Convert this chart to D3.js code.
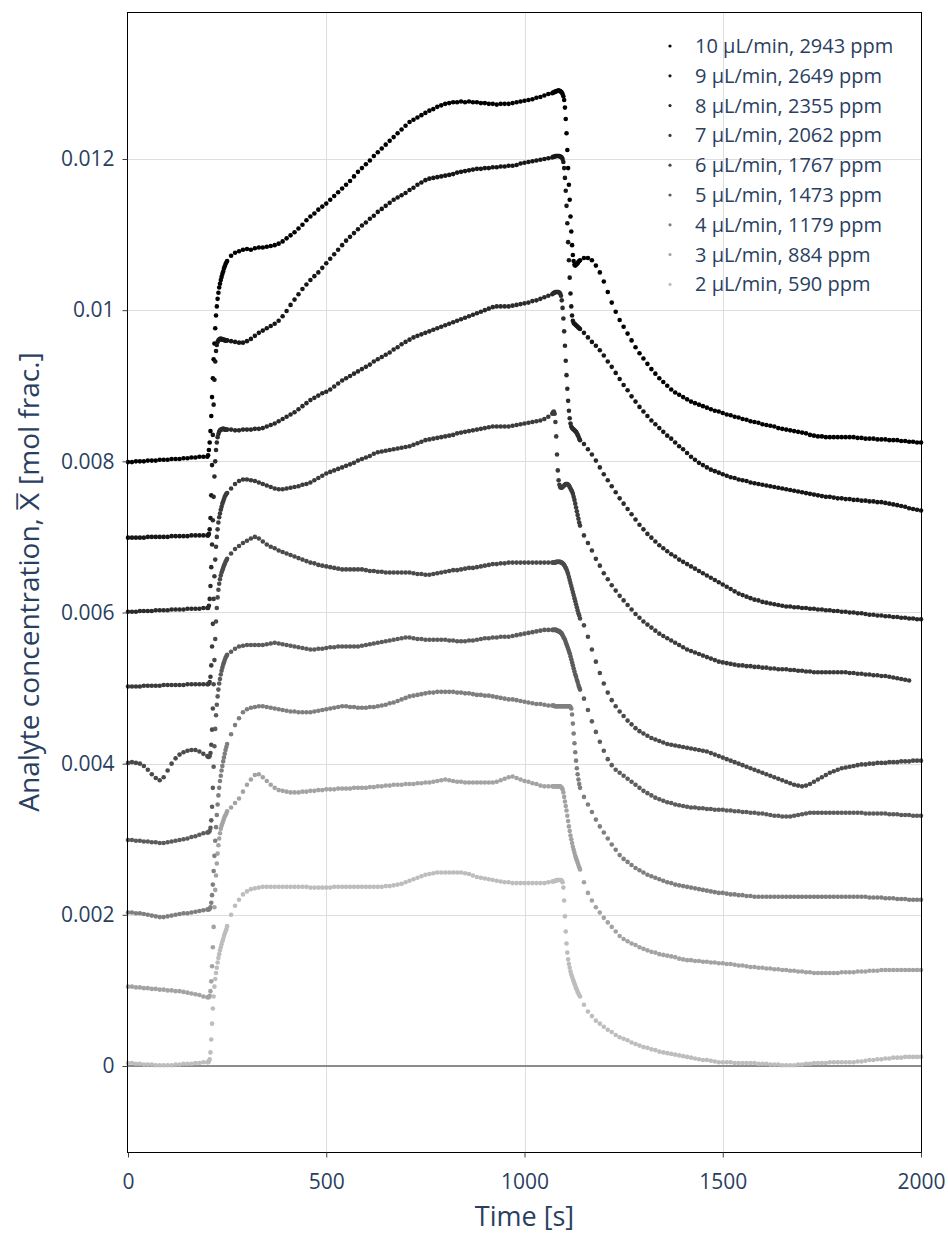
<!DOCTYPE html>
<html>
<head>
<meta charset="utf-8">
<script src="https://cdn.jsdelivr.net/npm/d3@7"></script>
<style>
  body { margin: 0; background: #fff; }
  text { font-family: "Open Sans", sans-serif; }
</style>
</head>
<body>
<div id="chart"></div>
<script>
// sample times [s]
var time = [
  0,10,20,30,40,50,60,70,80,90,100,110,120,130,140,150,160,170,180,190,200,
  202,204,206,208,210,212,214,216,218,220,222,224,226,228,230,232,234,236,238,240,242,244,246,248,
  250,260,270,280,290,300,310,320,330,340,350,360,370,380,390,400,410,420,430,440,
  450,460,470,480,490,500,510,520,530,540,550,560,570,580,590,600,610,620,630,640,
  650,660,670,680,690,700,710,720,730,740,750,760,770,780,790,800,810,820,830,840,
  850,860,870,880,890,900,910,920,930,940,950,960,970,980,990,1000,1010,1020,1030,1040,
  1050,1060,1070,
  1072,1074,1076,1078,1080,1082,1084,1086,1088,1090,1092,1094,1096,1098,1100,1102,1104,1106,1108,1110,
  1112,1114,1116,1118,1120,1122,1124,1126,1128,1130,1132,1134,1136,1138,
  1140,1150,1160,1170,1180,1190,1200,1210,1220,1230,1240,1250,1260,1270,1280,1290,1300,1310,1320,1330,
  1340,1350,1360,1370,1380,1390,1400,1410,1420,1430,1440,1450,1460,1470,1480,1490,1500,1510,1520,1530,
  1540,1550,1560,1570,1580,1590,1600,1610,1620,1630,1640,1650,1660,1670,1680,1690,1700,1710,1720,1730,
  1740,1750,1760,1770,1780,1790,1800,1810,1820,1830,1840,1850,1860,1870,1880,1890,1900,1910,1920,1930,
  1940,1950,1960,1970,1980,1990,2000
];

// analyte concentration, in units of 1e-4 mol frac.
var x10 = [
  79.9,79.9,80.0,80.0,80.0,80.1,80.1,80.1,80.2,80.2,80.2,80.3,80.3,80.3,80.4,80.4,80.5,80.5,80.6,80.6,80.6,
  80.8,81.5,82.5,84.0,86.0,88.5,91.0,93.5,95.6,97.6,99.3,100.5,101.5,102.3,103.0,103.5,104.0,104.4,104.8,105.1,105.5,105.8,106.1,106.3,
  106.5,107.2,107.6,107.8,108.0,108.1,108.0,108.2,108.3,108.3,
  108.4,108.5,108.6,108.8,109.1,109.5,109.9,110.3,110.8,111.3,
  111.9,112.4,112.8,113.3,113.7,114.1,114.6,115.1,115.6,116.1,
  116.6,117.1,117.7,118.3,118.8,119.3,119.8,120.4,120.9,121.4,
  121.9,122.4,122.9,123.4,123.9,124.4,124.9,125.2,125.5,125.8,
  126.1,126.4,126.6,126.9,127.1,127.3,127.4,127.5,127.5,127.6,
  127.5,127.6,127.5,127.5,127.4,127.4,127.3,127.3,127.2,127.3,
  127.3,127.3,127.4,127.5,127.6,127.7,127.8,127.9,128.1,128.2,
  128.4,128.6,128.7,
  128.8,128.8,128.9,128.9,129.0,129.0,129.0,129.1,129.0,129.0,
  128.9,128.8,128.6,128.3,127.8,126.8,125.3,123.4,121.2,118.8,
  116.6,114.6,112.4,110.4,108.6,107.3,106.5,106.0,105.9,106.0,
  106.1,106.2,106.4,106.5,
  106.6,106.9,106.9,106.6,105.9,105.0,103.8,102.4,101.0,99.8,
  98.7,97.8,96.9,96.0,95.1,94.3,93.6,92.9,92.2,91.6,
  91.0,90.5,90.0,89.5,89.1,88.8,88.5,88.2,87.9,87.7,
  87.5,87.3,87.1,86.9,86.7,86.6,86.4,86.2,86.1,85.9,
  85.8,85.6,85.5,85.3,85.2,85.1,84.9,84.8,84.7,84.6,
  84.4,84.3,84.2,84.1,84.0,83.9,83.8,83.7,83.5,83.4,
  83.3,83.3,83.2,83.2,83.2,83.2,83.2,83.2,83.2,83.2,
  83.1,83.1,83.0,83.0,83.0,82.9,82.9,82.9,82.8,82.8,
  82.8,82.7,82.7,82.6,82.6,82.5,82.5
];
var x9 = [
  69.9,69.9,69.9,69.9,69.9,70.0,70.0,70.0,70.0,70.0,70.0,70.1,70.1,70.1,70.1,70.1,70.2,70.2,70.2,70.2,70.2,
  70.2,70.4,71.0,72.5,75.5,79.5,83.5,87.5,90.8,93.2,94.6,95.4,95.8,96.0,96.1,96.2,96.2,96.2,96.1,96.1,96.1,96.0,96.0,96.0,
  96.0,95.9,95.8,95.7,95.7,95.9,96.2,96.6,97.0,97.3,
  97.6,97.9,98.2,98.6,99.2,99.9,100.7,101.4,102.1,102.8,
  103.4,104.0,104.5,105.0,105.6,106.2,106.8,107.4,108.0,108.6,
  109.2,109.7,110.2,110.7,111.2,111.6,112.1,112.5,113.0,113.4,
  113.8,114.2,114.6,114.9,115.2,115.5,115.9,116.2,116.6,116.9,
  117.2,117.4,117.5,117.6,117.7,117.8,117.9,118.0,118.2,118.3,
  118.4,118.5,118.6,118.7,118.7,118.8,118.8,118.9,118.9,119.0,
  119.0,119.1,119.1,119.2,119.4,119.5,119.6,119.7,119.8,119.9,
  120.0,120.1,120.2,
  120.3,120.3,120.3,120.4,120.4,120.4,120.4,120.4,120.4,120.3,
  120.3,120.2,120.0,119.6,118.8,117.5,115.8,113.8,111.5,109.0,
  106.6,104.3,102.2,100.5,99.3,98.6,98.3,98.2,98.1,98.0,
  97.9,97.8,97.7,97.6,
  97.5,97.0,96.4,95.8,95.3,94.7,94.0,93.2,92.5,91.7,
  90.9,90.1,89.4,88.6,87.9,87.2,86.6,86.0,85.4,84.9,
  84.4,83.9,83.4,83.0,82.5,82.0,81.6,81.1,80.6,80.2,
  79.8,79.5,79.2,78.9,78.7,78.5,78.3,78.1,77.9,77.8,
  77.6,77.5,77.4,77.2,77.1,77.0,76.9,76.8,76.7,76.6,
  76.5,76.4,76.3,76.2,76.1,76.0,75.9,75.8,75.7,75.6,
  75.5,75.4,75.3,75.3,75.2,75.1,75.1,75.0,75.0,74.9,
  74.9,74.8,74.8,74.7,74.7,74.6,74.6,74.5,74.4,74.3,
  74.2,74.1,74.0,73.8,73.7,73.6,73.5
];
var x8 = [
  60.1,60.1,60.1,60.2,60.2,60.2,60.2,60.3,60.3,60.3,60.3,60.4,60.4,60.4,60.4,60.5,60.5,60.5,60.5,60.6,60.6,
  60.6,60.9,61.8,63.5,66.0,69.0,72.2,75.3,78.0,80.0,81.5,82.5,83.2,83.6,83.9,84.1,84.2,84.2,84.3,84.3,84.3,84.2,84.2,84.2,
  84.2,84.2,84.1,84.1,84.2,84.2,84.2,84.3,84.3,84.4,
  84.6,84.8,85.0,85.3,85.6,85.9,86.2,86.5,86.9,87.3,
  87.7,88.1,88.4,88.7,89.0,89.2,89.5,89.9,90.3,90.7,
  91.0,91.3,91.6,91.9,92.2,92.5,92.8,93.2,93.5,93.8,
  94.1,94.4,94.8,95.1,95.5,95.8,96.1,96.4,96.6,96.8,
  97.0,97.2,97.4,97.6,97.8,98.0,98.2,98.4,98.6,98.8,
  99.0,99.2,99.4,99.6,99.8,100.0,100.2,100.4,100.5,100.5,
  100.5,100.5,100.6,100.7,100.8,100.9,101.0,101.2,101.3,101.5,
  101.7,101.9,102.1,
  102.2,102.3,102.3,102.4,102.4,102.4,102.4,102.4,102.3,102.2,
  101.9,101.3,100.3,98.9,97.2,95.3,93.3,91.4,89.6,88.0,
  86.7,85.7,85.0,84.6,84.4,84.3,84.2,84.1,84.0,83.9,
  83.7,83.5,83.3,83.0,
  82.8,82.3,81.6,80.9,80.1,79.2,78.3,77.5,76.7,75.9,
  75.1,74.4,73.7,73.0,72.3,71.6,71.0,70.4,69.9,69.4,
  68.9,68.5,68.1,67.7,67.4,67.0,66.7,66.4,66.1,65.8,
  65.5,65.2,64.9,64.6,64.3,64.0,63.7,63.4,63.1,62.8,
  62.5,62.3,62.1,61.9,61.7,61.6,61.4,61.3,61.2,61.1,
  61.0,60.9,60.8,60.8,60.7,60.7,60.6,60.6,60.5,60.5,
  60.4,60.4,60.3,60.3,60.2,60.2,60.1,60.1,60.0,60.0,
  59.9,59.9,59.8,59.7,59.7,59.6,59.6,59.5,59.5,59.4,
  59.4,59.3,59.3,59.2,59.2,59.1,59.1
];
var x7 = [
  50.2,50.2,50.2,50.2,50.3,50.3,50.3,50.3,50.3,50.4,50.4,50.4,50.4,50.4,50.4,50.5,50.5,50.5,50.5,50.5,50.5,
  50.5,50.6,50.8,51.5,53.0,55.5,58.5,61.8,64.8,67.0,68.7,70.0,71.0,71.9,72.6,73.1,73.6,74.0,74.4,74.7,75.0,75.3,75.5,75.7,
  75.8,76.4,77.0,77.4,77.6,77.6,77.5,77.4,77.2,77.0,
  76.8,76.6,76.4,76.3,76.3,76.4,76.5,76.6,76.7,76.9,
  77.0,77.2,77.5,77.8,78.1,78.4,78.6,78.8,79.0,79.2,
  79.4,79.6,79.8,80.1,80.3,80.5,80.7,81.0,81.2,81.3,
  81.4,81.5,81.6,81.7,81.8,81.9,82.0,82.2,82.4,82.6,
  82.8,82.9,83.0,83.1,83.2,83.3,83.4,83.5,83.7,83.8,
  83.9,84.0,84.1,84.2,84.3,84.4,84.5,84.6,84.6,84.6,
  84.6,84.6,84.7,84.8,84.9,85.0,85.1,85.2,85.3,85.4,
  85.6,85.9,86.3,
  86.5,86.6,86.3,85.2,83.3,80.9,78.8,77.5,76.9,76.6,
  76.5,76.5,76.6,76.7,76.8,76.9,77.0,77.0,77.0,76.9,
  76.8,76.6,76.4,76.2,76.0,75.7,75.3,74.9,74.4,73.9,
  73.4,72.9,72.4,71.9,
  71.5,70.2,69.2,68.2,67.1,66.2,65.2,64.4,63.6,62.9,
  62.2,61.6,61.0,60.4,59.8,59.3,58.8,58.4,58.0,57.6,
  57.2,56.9,56.6,56.3,56.0,55.7,55.4,55.1,54.9,54.7,
  54.5,54.3,54.1,53.9,53.7,53.5,53.4,53.3,53.2,53.1,
  53.0,53.0,52.9,52.9,52.8,52.8,52.7,52.7,52.6,52.6,
  52.5,52.5,52.5,52.4,52.4,52.3,52.3,52.2,52.2,52.1,
  52.1,52.1,52.1,52.1,52.1,52.1,52.1,52.1,52.0,52.0,
  51.9,51.9,51.8,51.8,51.7,51.7,51.6,51.6,51.5,51.4,
  51.3,51.2,51.1,51.0,null,null,null
];
var x6 = [
  40.1,40.2,40.1,40.0,39.7,39.2,38.6,38.1,37.8,38.2,39.1,40.0,40.7,41.2,41.5,41.7,41.8,41.8,41.6,41.3,41.0,
  40.9,40.9,41.0,41.4,42.5,44.5,47.3,50.5,53.7,56.5,58.8,60.6,62.0,63.0,63.8,64.4,64.9,65.3,65.6,65.9,66.2,66.4,66.7,66.9,
  67.1,67.8,68.4,68.8,69.2,69.5,69.8,70.0,69.8,69.4,
  69.0,68.7,68.5,68.2,68.0,67.8,67.6,67.4,67.2,67.0,
  66.8,66.6,66.5,66.3,66.2,66.1,66.0,65.9,65.8,65.7,
  65.7,65.7,65.7,65.7,65.7,65.6,65.5,65.5,65.4,65.4,
  65.3,65.3,65.3,65.3,65.3,65.3,65.3,65.2,65.1,65.1,
  65.0,65.0,65.1,65.2,65.3,65.4,65.5,65.6,65.6,65.7,
  65.8,65.9,65.9,66.0,66.1,66.2,66.3,66.4,66.4,66.5,
  66.5,66.6,66.6,66.6,66.6,66.6,66.6,66.6,66.6,66.6,
  66.6,66.6,66.6,
  66.6,66.6,66.6,66.6,66.7,66.7,66.7,66.7,66.7,66.7,
  66.6,66.6,66.5,66.4,66.3,66.1,65.9,65.7,65.4,65.1,
  64.7,64.3,63.9,63.5,63.1,62.7,62.3,61.9,61.5,61.1,
  60.7,60.3,59.9,59.6,
  59.2,58.3,56.8,55.1,53.5,52.0,50.6,49.4,48.4,47.6,
  46.9,46.3,45.7,45.2,44.7,44.3,44.0,43.7,43.4,43.2,
  43.0,42.8,42.6,42.5,42.4,42.3,42.2,42.1,42.0,41.9,
  41.8,41.7,41.6,41.4,41.2,41.0,40.8,40.6,40.4,40.2,
  40.0,39.8,39.6,39.4,39.2,39.0,38.8,38.6,38.4,38.2,
  38.0,37.8,37.6,37.4,37.2,37.1,37.0,37.1,37.3,37.6,
  37.9,38.2,38.5,38.8,39.0,39.2,39.4,39.5,39.6,39.7,
  39.8,39.9,39.9,40.0,40.0,40.1,40.1,40.1,40.2,40.2,
  40.2,40.3,40.3,40.3,40.4,40.4,40.4
];
var x5 = [
  29.9,29.9,29.8,29.8,29.7,29.7,29.6,29.6,29.5,29.5,29.6,29.7,29.8,29.9,30.0,30.1,30.3,30.4,30.6,30.8,30.9,
  30.9,31.0,31.1,31.5,32.5,34.3,36.8,39.6,42.3,44.6,46.4,47.8,48.9,49.8,50.6,51.2,51.8,52.3,52.7,53.1,53.4,53.7,54.0,54.2,
  54.4,54.8,55.2,55.5,55.6,55.7,55.7,55.7,55.7,55.7,
  55.8,55.9,56.0,55.9,55.8,55.7,55.6,55.5,55.4,55.3,
  55.2,55.1,55.1,55.2,55.2,55.3,55.4,55.4,55.5,55.5,
  55.5,55.5,55.5,55.5,55.6,55.7,55.8,55.9,56.0,56.1,
  56.2,56.3,56.4,56.5,56.6,56.7,56.7,56.6,56.5,56.5,
  56.4,56.4,56.4,56.4,56.4,56.4,56.3,56.3,56.2,56.2,
  56.2,56.3,56.3,56.4,56.5,56.6,56.6,56.7,56.7,56.8,
  56.8,56.8,56.9,57.0,57.1,57.2,57.3,57.4,57.5,57.6,
  57.7,57.7,57.7,
  57.7,57.7,57.7,57.7,57.7,57.6,57.6,57.5,57.5,57.4,
  57.3,57.2,57.0,56.8,56.6,56.4,56.1,55.8,55.5,55.2,
  54.9,54.6,54.2,53.8,53.4,53.0,52.6,52.2,51.8,51.5,
  51.1,50.8,50.4,50.1,
  49.8,48.6,47.1,45.6,44.2,42.9,41.7,40.6,39.8,39.2,
  38.8,38.4,38.0,37.6,37.2,36.8,36.4,36.1,35.8,35.5,
  35.3,35.1,34.9,34.8,34.6,34.5,34.4,34.3,34.2,34.2,
  34.1,34.1,34.0,34.0,33.9,33.9,33.9,33.8,33.8,33.7,
  33.7,33.6,33.6,33.5,33.5,33.4,33.4,33.3,33.2,33.1,
  33.1,33.0,33.0,33.0,33.1,33.2,33.3,33.4,33.5,33.5,
  33.5,33.5,33.5,33.5,33.5,33.5,33.5,33.5,33.5,33.5,
  33.5,33.5,33.4,33.4,33.4,33.4,33.4,33.4,33.3,33.3,
  33.3,33.2,33.2,33.2,33.1,33.1,33.1
];
var x4 = [
  20.3,20.3,20.2,20.2,20.1,20.0,19.9,19.8,19.7,19.7,19.8,19.9,20.0,20.1,20.2,20.2,20.3,20.4,20.5,20.6,20.7,
  20.7,20.7,20.8,21.0,21.6,22.6,24.0,25.8,27.8,29.8,31.6,33.2,34.6,35.8,36.8,37.7,38.4,39.1,39.7,40.3,40.8,41.3,41.8,42.2,
  42.6,43.9,45.1,46.0,46.8,47.2,47.4,47.5,47.6,47.6,
  47.5,47.4,47.3,47.2,47.1,47.0,46.9,46.9,46.8,46.8,
  46.8,46.8,46.9,47.0,47.1,47.2,47.3,47.4,47.5,47.6,
  47.6,47.5,47.5,47.4,47.4,47.4,47.5,47.5,47.6,47.7,
  47.8,48.0,48.1,48.3,48.5,48.7,48.9,49.0,49.1,49.2,
  49.3,49.4,49.4,49.5,49.5,49.5,49.5,49.5,49.4,49.4,
  49.3,49.3,49.2,49.1,49.1,49.0,49.0,48.9,48.8,48.7,
  48.6,48.5,48.5,48.4,48.3,48.2,48.1,48.0,47.9,47.9,
  47.8,47.7,47.7,
  47.7,47.7,47.6,47.6,47.6,47.6,47.6,47.6,47.6,47.6,
  47.6,47.6,47.6,47.6,47.6,47.6,47.6,47.6,47.6,47.6,
  47.6,47.6,47.5,47.3,46.5,45.3,44.0,42.7,41.5,40.4,
  39.4,38.6,37.9,37.3,
  36.8,35.6,34.6,33.6,32.6,31.7,30.9,30.1,29.3,28.6,
  27.9,27.4,27.0,26.6,26.2,25.9,25.6,25.3,25.1,24.9,
  24.7,24.5,24.3,24.2,24.0,23.9,23.8,23.7,23.6,23.5,
  23.4,23.3,23.2,23.1,23.0,22.9,22.9,22.8,22.7,22.7,
  22.6,22.6,22.5,22.5,22.4,22.4,22.4,22.4,22.4,22.4,
  22.4,22.4,22.4,22.4,22.4,22.4,22.4,22.4,22.4,22.4,
  22.4,22.4,22.4,22.4,22.4,22.4,22.4,22.4,22.4,22.4,
  22.4,22.4,22.4,22.3,22.3,22.3,22.3,22.2,22.2,22.2,
  22.1,22.1,22.1,22.0,22.0,22.0,22.0
];
var x3 = [
  10.5,10.5,10.4,10.4,10.3,10.3,10.2,10.2,10.1,10.1,10.0,10.0,9.9,9.9,9.8,9.7,9.6,9.5,9.4,9.2,9.1,
  9.1,9.1,9.3,9.9,11.2,13.2,15.7,18.4,21.0,23.3,25.2,26.8,28.1,29.2,30.1,30.8,31.4,31.8,32.1,32.4,32.7,33.0,33.2,33.4,
  33.7,34.2,34.8,35.4,36.3,37.2,37.9,38.5,38.6,38.2,
  37.7,37.2,36.8,36.5,36.4,36.3,36.2,36.2,36.2,36.3,
  36.3,36.4,36.4,36.5,36.5,36.6,36.6,36.6,36.7,36.7,
  36.7,36.7,36.8,36.8,36.8,36.8,36.9,36.9,37.0,37.0,
  37.1,37.1,37.2,37.2,37.2,37.3,37.3,37.3,37.4,37.4,
  37.5,37.5,37.6,37.7,37.8,37.9,37.8,37.7,37.6,37.6,
  37.5,37.5,37.5,37.5,37.5,37.5,37.5,37.5,37.6,37.8,
  38.0,38.2,38.3,38.1,37.9,37.7,37.6,37.4,37.3,37.1,
  37.0,37.0,37.0,
  37.0,37.0,37.0,37.0,37.0,37.0,37.0,37.0,37.0,37.0,
  36.9,36.8,36.6,36.2,35.6,35.0,34.4,33.8,33.1,32.4,
  31.7,31.1,30.5,30.0,29.5,29.0,28.6,28.2,27.8,27.5,
  27.2,26.9,26.6,26.3,
  26.0,24.3,22.9,21.9,21.0,20.3,19.6,19.0,18.4,17.8,
  17.2,16.8,16.5,16.2,16.0,15.7,15.5,15.3,15.1,15.0,
  14.8,14.7,14.6,14.5,14.4,14.2,14.1,14.0,14.0,13.9,
  13.9,13.8,13.8,13.7,13.7,13.6,13.6,13.5,13.5,13.4,
  13.3,13.3,13.2,13.1,13.1,13.0,13.0,12.9,12.9,12.8,
  12.8,12.7,12.7,12.6,12.6,12.5,12.5,12.4,12.4,12.3,
  12.3,12.3,12.3,12.3,12.3,12.3,12.4,12.4,12.4,12.4,
  12.5,12.5,12.5,12.6,12.6,12.6,12.7,12.7,12.7,12.7,
  12.7,12.7,12.7,12.7,12.7,12.7,12.7
];
var x2 = [
  0.4,0.4,0.3,0.3,0.2,0.2,0.2,0.1,0.1,0.1,0.1,0.1,0.2,0.2,0.3,0.3,0.3,0.4,0.4,0.5,0.5,
  0.5,0.6,0.9,1.8,3.5,5.6,7.6,9.2,10.5,11.5,12.3,13.0,13.7,14.3,14.8,15.3,15.7,16.1,16.5,16.8,17.2,17.5,17.8,18.1,
  18.5,20.0,21.2,22.0,22.7,23.1,23.4,23.5,23.6,23.7,
  23.7,23.7,23.7,23.7,23.7,23.7,23.7,23.7,23.7,23.7,
  23.7,23.6,23.6,23.6,23.6,23.6,23.6,23.7,23.7,23.7,
  23.7,23.7,23.7,23.7,23.7,23.7,23.7,23.7,23.7,23.7,
  23.8,23.8,23.9,24.0,24.1,24.3,24.5,24.7,24.9,25.1,
  25.3,25.4,25.5,25.6,25.6,25.6,25.6,25.6,25.6,25.6,
  25.5,25.4,25.2,25.0,24.9,24.8,24.7,24.6,24.5,24.4,
  24.3,24.3,24.2,24.2,24.2,24.2,24.2,24.2,24.2,24.2,
  24.2,24.3,24.4,
  24.4,24.4,24.5,24.5,24.5,24.6,24.6,24.6,24.6,24.6,
  24.6,24.5,24.3,23.6,21.9,19.8,17.8,16.2,15.0,14.1,
  13.5,13.0,12.5,12.1,11.8,11.5,11.2,10.9,10.6,10.3,
  10.1,9.8,9.6,9.4,
  9.2,8.1,7.2,6.6,6.0,5.6,5.2,4.8,4.5,4.1,
  3.8,3.6,3.4,3.1,2.9,2.7,2.5,2.4,2.2,2.1,
  1.9,1.8,1.7,1.6,1.5,1.4,1.3,1.2,1.1,1.0,
  0.9,0.8,0.8,0.7,0.6,0.5,0.5,0.5,0.5,0.4,
  0.4,0.4,0.4,0.4,0.4,0.3,0.3,0.3,0.2,0.2,
  0.2,0.1,0.1,0.1,0.1,0.2,0.2,0.3,0.3,0.4,
  0.4,0.4,0.4,0.5,0.5,0.5,0.5,0.5,0.5,0.5,
  0.6,0.6,0.7,0.8,0.8,0.9,0.9,1.0,1.0,1.1,
  1.1,1.1,1.2,1.2,1.2,1.2,1.2
];

var seriesNames = [
  "10 µL/min, 2943 ppm", "9 µL/min, 2649 ppm", "8 µL/min, 2355 ppm",
  "7 µL/min, 2062 ppm", "6 µL/min, 1767 ppm", "5 µL/min, 1473 ppm",
  "4 µL/min, 1179 ppm", "3 µL/min, 884 ppm", "2 µL/min, 590 ppm"
];
var seriesValues = [x10, x9, x8, x7, x6, x5, x4, x3, x2];
var seriesColors = ["#000000", "#171717", "#2b2b2b", "#3b3b3b", "#4a4a4a", "#5c5c5c", "#7f7f7f", "#a3a3a3", "#bdbdbd"];

var yTicks = [0, 0.002, 0.004, 0.006, 0.008, 0.01, 0.012];
var xTicks = [0, 500, 1000, 1500, 2000];

var svgWidth = 948;
var svgHeight = 1235;
var margin = { top: 12, right: 27, bottom: 83, left: 128 };
var width = svgWidth - margin.left - margin.right;
var height = svgHeight - margin.top - margin.bottom;
var textColor = "#2a3f5f";

var svg = d3.select("#chart")
  .append("svg")
  .attr("width", svgWidth)
  .attr("height", svgHeight);

var chartGroup = svg.append("g")
  .attr("transform", `translate(${margin.left}, ${margin.top})`);

var xScale = d3.scaleLinear().domain([0, 2000]).range([0, width]);
var yScale = d3.scaleLinear().domain([-0.001138, 0.013945]).range([height, 0]);

// grid
chartGroup.append("g").selectAll("line")
  .data(xTicks.slice(1, -1))
  .enter().append("line")
  .attr("x1", d => Math.round(xScale(d)) + 0.5).attr("x2", d => Math.round(xScale(d)) + 0.5)
  .attr("y1", 0).attr("y2", height)
  .attr("stroke", "#dedede").attr("stroke-width", 1);

chartGroup.append("g").selectAll("line")
  .data(yTicks.filter(d => d !== 0))
  .enter().append("line")
  .attr("x1", 0).attr("x2", width)
  .attr("y1", d => Math.round(yScale(d)) + 0.5).attr("y2", d => Math.round(yScale(d)) + 0.5)
  .attr("stroke", "#dedede").attr("stroke-width", 1);

// zero line
chartGroup.append("line")
  .attr("x1", 0).attr("x2", width)
  .attr("y1", yScale(0)).attr("y2", yScale(0))
  .attr("stroke", "#8c8c8c").attr("stroke-width", 2);

// points
seriesValues.forEach(function(vals, i) {
  var pts = time.map((t, j) => [t, vals[j]]).filter(p => p[1] != null);
  chartGroup.append("g")
    .selectAll("circle")
    .data(pts)
    .enter()
    .append("circle")
    .attr("cx", d => xScale(d[0]))
    .attr("cy", d => yScale(d[1] * 1e-4))
    .attr("r", 2.3)
    .attr("fill", seriesColors[i]);
});

// frame
chartGroup.append("rect")
  .attr("x", -0.5).attr("y", 0.5)
  .attr("width", width + 1).attr("height", height)
  .attr("fill", "none").attr("stroke", "#000").attr("stroke-width", 1);

// axes
var leftAxis = d3.axisLeft(yScale)
  .tickValues(yTicks)
  .tickSize(5)
  .tickPadding(8)
  .tickFormat(d => String(+d.toFixed(3)));
var bottomAxis = d3.axisBottom(xScale)
  .tickValues(xTicks)
  .tickSize(5)
  .tickPadding(8)
  .tickFormat(d3.format("d"));

var yAxisG = chartGroup.append("g").attr("transform", "translate(-0.5,0)").call(leftAxis);
var xAxisG = chartGroup.append("g").attr("transform", `translate(0, ${height + 0.5})`).call(bottomAxis);

[yAxisG, xAxisG].forEach(function(g) {
  g.select(".domain").remove();
  g.selectAll(".tick line").attr("stroke", "#444");
  g.selectAll(".tick text")
    .attr("fill", textColor)
    .style("font-family", "'Open Sans', sans-serif")
    .style("font-size", "21px");
});
xAxisG.selectAll(".tick text").attr("y", 36).attr("dy", null);

// axis titles
svg.append("text")
  .attr("x", margin.left + width / 2)
  .attr("y", 1226)
  .attr("text-anchor", "middle")
  .attr("fill", textColor)
  .style("font-size", "27px")
  .text("Time [s]");

svg.append("text")
  .attr("transform", `translate(39, ${margin.top + height / 2}) rotate(-90)`)
  .attr("text-anchor", "middle")
  .attr("fill", textColor)
  .style("font-size", "28px")
  .text("Analyte concentration, X\u0305 [mol frac.]");

// legend
var legend = svg.append("g");
seriesNames.forEach(function(name, i) {
  var yPos = 46 + i * 29.8;
  legend.append("circle")
    .attr("cx", 670).attr("cy", yPos).attr("r", 1.6)
    .attr("fill", seriesColors[i]);
  legend.append("text")
    .attr("x", 695).attr("y", yPos)
    .attr("dy", "0.35em")
    .attr("fill", textColor)
    .style("font-size", "20px")
    .text(name);
});
</script>
</body>
</html>
